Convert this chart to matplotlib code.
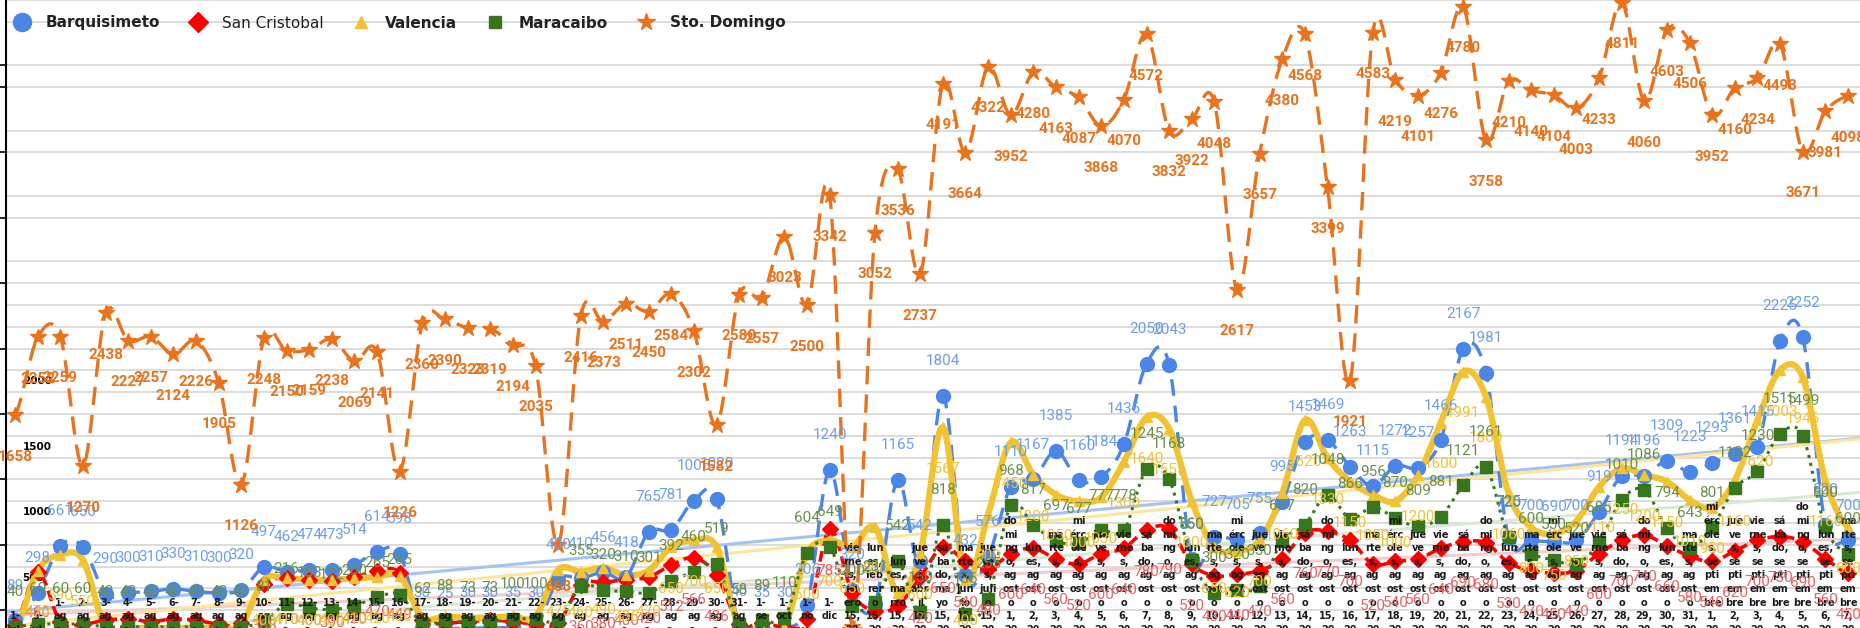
import numpy as np
import matplotlib
matplotlib.use('Agg')
import matplotlib.pyplot as plt
import matplotlib.transforms as mtransforms
from matplotlib.lines import Line2D
from matplotlib.ticker import FixedLocator

# categories (x axis)
dias = ['domingo', 'lunes', 'martes', 'miércoles', 'jueves', 'viernes', 'sábado']
categorias = (['1-jul-20', '5-jul-20']
              + ['%d-ago-20' % d for d in range(1, 32)]
              + ['1-sep-20', '1-oct-20', '1-nov-20', '1-dic-20',
                 'viernes, enero 15, 2021', 'lunes, febrero 15, 2021',
                 'lunes, marzo 15, 2021', 'jueves, abril 15, 2021',
                 'sábado, mayo 15, 2021', 'martes, junio 15, 2021',
                 'jueves, julio 15, 2021']
              + ['%s, agosto %d, 2021' % (dias[(d - 1) % 7], d) for d in range(1, 32)]
              + ['%s, septiembre %d, 2021' % (dias[(d + 2) % 7], d) for d in range(1, 8)])

barquisimeto = [89, 298, 661, 650, 290, 300, 310, 330, 310, 300,
                320, 497, 462, 474, 473, 514, 614, 598, 30, 25,
                30, 30, 35, 30, 400, 410, 456, 418, 765, 781,
                1005, 1020, 40, 35, 30, 206, 1240, 320, 215, 1165,
                542, 1804, 432, 576, 1110, 1167, 1385, 1160, 1184, 1436,
                2050, 2043, 560, 727, 705, 755, 995, 1453, 1469, 1263,
                1115, 1272, 1257, 1466, 2167, 1981, 720, 700, 690, 700,
                919, 1194, 1196, 1309, 1223, 1293, 1361, 1415, 2225, 2252,
                820, 700]

san_cristobal = [50, 460, 80, 60, 90, 100, 80, 100, 90, 60,
                 70, 368, 410, 400, 390, 420, 470, 449, 90, 70,
                 80, 90, 80, 60, 70, 360, 380, 400, 420, 512,
                 566, 436, 60, 70, 40, 100, 785, 300, 160, 200,
                 420, 650, 540, 480, 600, 640, 560, 520, 600, 640,
                 780, 790, 520, 430, 440, 470, 560, 760, 770, 700,
                 520, 540, 560, 640, 690, 680, 530, 470, 450, 470,
                 600, 700, 740, 660, 580, 540, 620, 700, 730, 690,
                 560, 450]

valencia = [15, 470, 590, 550, 30, 30, 30, 30, 30, 30,
            60, 400, 410, 400, 400, 410, 420, 430, 115, 120,
            110, 110, 120, 120, 475, 460, 490, 436, 470, 650,
            700, 650, 40, 40, 40, 600, 700, 650, 800, 300,
            600, 1567, 400, 900, 1450, 1200, 1050, 1000, 1030, 1300,
            1640, 1555, 1000, 650, 620, 700, 1060, 1620, 1330, 1150,
            1050, 1000, 1200, 1600, 1991, 1800, 1060, 800, 750, 850,
            1110, 1250, 1200, 1150, 1010, 950, 1160, 1620, 2003, 1946,
            1160, 800]

maracaibo = [40, 60, 60, 60, 40, 40, 40, 40, 40, 40,
             40, 81, 216, 183, 172, 200, 265, 285, 62, 88,
             73, 73, 100, 100, 90, 355, 320, 310, 301, 392,
             460, 519, 58, 89, 110, 604, 649, 200, 231, 542,
             150, 818, 136, 255, 968, 817, 697, 677, 777, 778,
             1245, 1168, 550, 300, 320, 350, 697, 820, 1048, 866,
             956, 870, 809, 881, 1121, 1261, 725, 600, 550, 520,
             685, 1010, 1086, 794, 643, 801, 1102, 1230, 1515, 1499,
             800, 600]

sto_domingo = [1658, 2252, 2259, 1270, 2438, 2227, 2257, 2124, 2226, 1905,
               1126, 2248, 2150, 2159, 2238, 2069, 2141, 1226, 2360, 2390,
               2323, 2319, 2194, 2035, 663, 2416, 2373, 2511, 2450, 2584,
               2302, 1582, 2580, 2557, 3023, 2500, 3342, 40, 3052, 3536,
               2737, 4191, 3664, 4322, 3952, 4280, 4163, 4087, 3868, 4070,
               4572, 3832, 3922, 4048, 2617, 3657, 4380, 4568, 3399, 1921,
               4583, 4219, 4101, 4276, 4780, 3758, 4210, 4140, 4104, 4003,
               4233, 4811, 4060, 4603, 4506, 3952, 4160, 4234, 4493, 3671,
               3981, 4098]

y_labels = [500, 1000, 1500, 2000]


def smooth(xs, ys, n=14):
    # Catmull-Rom curve through the points (only for drawing the line)
    x = np.asarray(xs, float)
    y = np.asarray(ys, float)
    px = np.concatenate([[2 * x[0] - x[1]], x, [2 * x[-1] - x[-2]]])
    py = np.concatenate([[y[0]], y, [y[-1]]])
    t = np.linspace(0, 1, n, endpoint=False)
    ox, oy = [], []
    for i in range(1, len(px) - 2):
        for arr, out in ((px, ox), (py, oy)):
            p0, p1, p2, p3 = arr[i - 1], arr[i], arr[i + 1], arr[i + 2]
            out.append(0.5 * (2 * p1 + (-p0 + p2) * t + (2 * p0 - 5 * p1 + 4 * p2 - p3) * t ** 2
                              + (-p0 + 3 * p1 - 3 * p2 + p3) * t ** 3))
    ox.append([x[-1]])
    oy.append([y[-1]])
    return np.concatenate(ox), np.concatenate(oy)


def wrap_label(s, limit=2.5):
    narrow = set("iljítrf,.-'")
    wide = set('mw')
    tokens = []
    for word in s.split(' '):
        tokens += [p for p in word.replace('-', '-\n').split('\n') if p]
    lines = []
    for tok in tokens:
        cur, cw = '', 0
        for c in tok:
            w = 0.5 if c in narrow else (1.5 if c in wide else 1.0)
            if cur and cw + w > limit:
                lines.append(cur)
                cur, cw = '', 0
            cur += c
            cw += w
        if cur:
            lines.append(cur)
    return '\n'.join(lines)


W, H = 1860, 628
fig = plt.figure(figsize=(W / 100, H / 100), dpi=100)
ax = fig.add_axes([6 / W, 0, 1 - 6 / W, 1])
x = np.arange(len(categorias))
ax.set_xlim(-0.4, 81.53)
ax.set_ylim(30.6, 4831.6)

# gridlines every 500/3, the 500-steps above 2500 are not drawn
step = 500 / 3
for k in range(1, 30):
    g = k * step
    if k % 3 == 0 and g > 2500:
        continue
    ax.axhline(g, color='#dcdcdc', lw=1.4, zorder=0)

ax.yaxis.set_major_locator(FixedLocator(y_labels))
ax.set_yticklabels([str(v) for v in y_labels])
ax.yaxis.set_minor_locator(FixedLocator([500 * k + step for k in range(9)] + [26 * step]))
ax.tick_params(axis='y', which='major', length=0, pad=-12, labelsize=7.5, labelcolor='black')
ax.tick_params(axis='y', which='minor', direction='out', length=4, width=1.2, color='black')
off = mtransforms.ScaledTranslation(0, -10 / 100, fig.dpi_scale_trans)
for lbl in ax.get_yticklabels():
    lbl.set_horizontalalignment('left')
    lbl.set_fontweight('bold')
    lbl.set_transform(lbl.get_transform() + off)
ax.set_xticks([])
for s in ['top', 'right', 'bottom']:
    ax.spines[s].set_visible(False)
ax.spines['left'].set_linewidth(1.5)
ax.spines['left'].set_color('black')

# series
series = [
    # name, data, color, label color, marker, ms, linestyle, lw, label offset(pt), bold
    ('Barquisimeto', barquisimeto, '#4a86e8', '#6d9eeb', 'o', 10, (0, (5, 3)), 2.4, 25, False),
    ('San Cristobal', san_cristobal, '#ff0000', '#e06666', 'D', 8, (0, (3, 1.5)), 2.6, -30, False),
    ('Valencia', valencia, '#f1c232', '#f1c232', '^', 7, '-', 4.5, -30, False),
    ('Maracaibo', maracaibo, '#38761d', '#6a8f4a', 's', 8.5, ':', 2.2, 25, False),
    ('Sto. Domingo', sto_domingo, '#e8731c', '#e8731c', '*', 12, (0, (5.5, 3)), 2.4, -30, True),
]

trend_colors = {'Barquisimeto': '#a4c2f4', 'Valencia': '#ffe599',
                'Maracaibo': '#d9ead3', 'San Cristobal': '#f4cccc'}
for name, data, col, lcol, mk, ms, ls, lw, dy, bold in series:
    if name in trend_colors:
        k, b = np.polyfit(x, data, 1)
        xt = np.array([-0.4, 81.53])
        ax.plot(xt, k * xt + b, color=trend_colors[name], lw=2.2, zorder=1)

for z, (name, data, col, lcol, mk, ms, ls, lw, dy, bold) in enumerate(series):
    sx, sy = smooth(x, data)
    ax.plot(sx, sy, color=col, lw=lw, linestyle=ls, zorder=2 + z * 0.1,
            solid_capstyle='round', dash_capstyle='butt')
    ax.plot(x, data, linestyle='None', marker=mk, ms=ms, color=col,
            markeredgecolor=col, zorder=3 + z * 0.1)
    for xi, v in zip(x, data):
        ax.annotate(str(v), (xi, v), xytext=(0, dy), textcoords='offset points',
                    ha='center', va='center', color=lcol, fontsize=11,
                    fontfamily='Roboto', fontweight='bold' if bold else 'normal',
                    zorder=5, annotation_clip=False)

# category labels, wrapped into narrow columns
for xi, c in zip(x, categorias):
    ax.text(xi, -125, wrap_label(c), ha='center', va='bottom', fontsize=7,
            fontweight='bold', color='#1a1a1a', linespacing=1.45,
            fontfamily='DejaVu Sans', zorder=4, clip_on=False)

# legend
handles = [Line2D([], [], linestyle='None', marker=s[4], color=s[2],
                  markersize={'o': 13, 'D': 10, '^': 9, 's': 9, '*': 13}[s[4]])
           for s in series]
leg = fig.legend(handles, [s[0] for s in series], loc='center left',
                 bbox_to_anchor=(14 / W, 1 - 23 / H), ncol=5, frameon=False,
                 borderpad=0, borderaxespad=0, handlelength=1.0, handletextpad=1.05,
                 columnspacing=2.0, prop={'size': 11})
for t, s in zip(leg.get_texts(), series):
    t.set_fontweight('normal' if s[0] == 'San Cristobal' else 'heavy')
    t.set_color('#222222')

fig.savefig('out.png', dpi=100)
